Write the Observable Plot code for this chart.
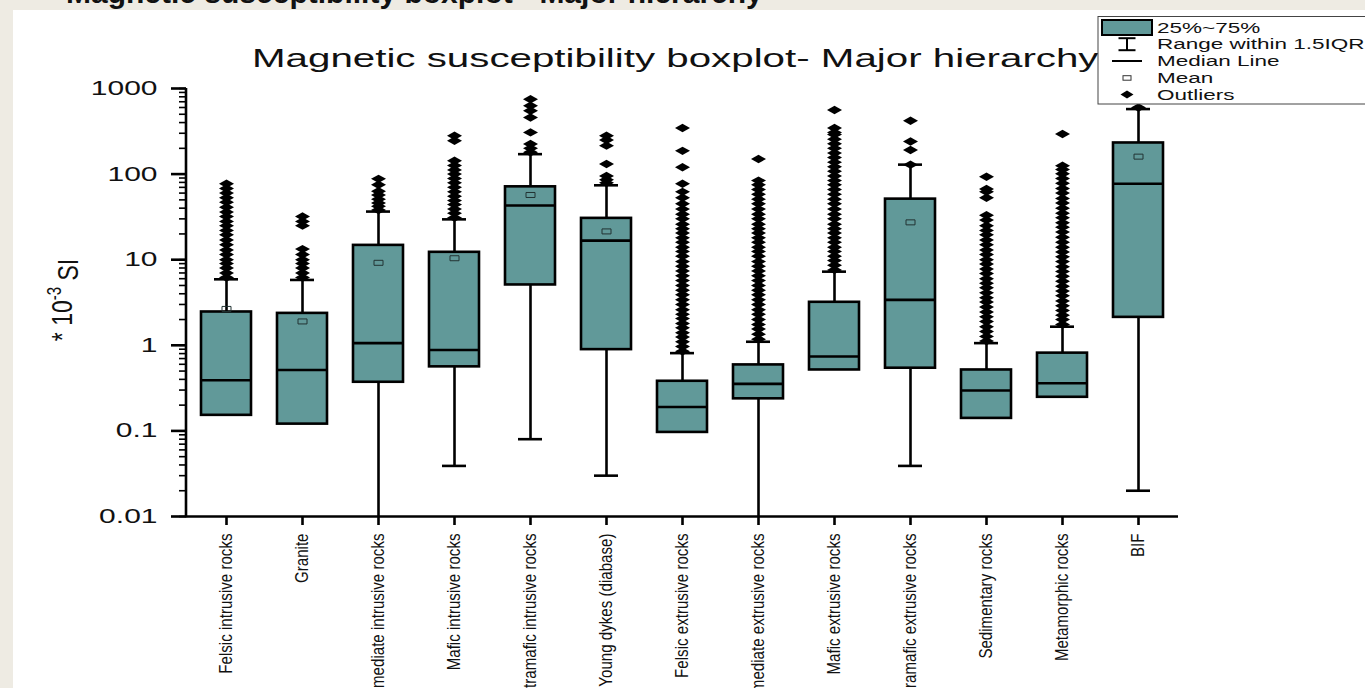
<!DOCTYPE html>
<html><head><meta charset="utf-8">
<script src="https://cdn.jsdelivr.net/npm/d3@7"></script>
<script src="https://cdn.jsdelivr.net/npm/@observablehq/plot@0.6"></script>
<style>
html,body{margin:0;padding:0;background:#eeebe3;overflow:hidden;width:1365px;height:688px;}
#chart{position:absolute;left:0;top:0;}
</style></head><body><div id="chart"></div>
<script>
// ---- data (values in *10^-3 SI) ----
const categories = ["Felsic intrusive rocks","Granite","Intermediate intrusive rocks","Mafic intrusive rocks","Ultramafic intrusive rocks","Young dykes (diabase)","Felsic extrusive rocks","Intermediate extrusive rocks","Mafic extrusive rocks","Ultramafic extrusive rocks","Sedimentary rocks","Metamorphic rocks","BIF"];
const q1          = [0.152, 0.12, 0.37, 0.56, 5.07, 0.89, 0.096, 0.237, 0.515, 0.54, 0.14, 0.247, 2.12];
const median      = [0.39, 0.515, 1.06, 0.88, 43, 16.7, 0.19, 0.354, 0.74, 3.39, 0.296, 0.36, 77];
const q3          = [2.45, 2.36, 14.7, 12.2, 71, 30.4, 0.38, 0.59, 3.18, 51, 0.515, 0.81, 231];
const mean        = [2.66, 1.9, 9.2, 10.4, 57, 21.4, null, null, null, 27.3, null, null, 160];
const whiskerHigh = [5.9, 5.8, 36.5, 29.6, 171, 74, 0.81, 1.1, 7.25, 129, 1.06, 1.65, 575];
const whiskerLow  = [null, null, 0.01, 0.039, 0.08, 0.03, null, 0.01, null, 0.039, null, null, 0.02];

const outFelsicIntrusive = [6.2,7,8,9,10,11.5,13,15,17,19.5,22,25,28,32,36,41,47,53,60,68,77];
const outGranite = [6.2,7,8,9,10,11.5,13.3,25,28,32];
const outIntermediateIntrusive = [38,42,46,51,57,63,75,88];
const outMaficIntrusive = [31,35,39,44,49,55,62,70,79,89,100,112,126,143,245,280];
const outUltramaficIntrusive = [180,200,225,307,458,550,630,750];
const outYoungDykes = [79,86,95,131,215,250,280];
const outFelsicExtrusive = [0.85,0.97,1.1,1.25,1.4,1.6,1.8,2.05,2.3,2.6,3,3.4,3.9,4.4,5,5.7,6.5,7.4,8.4,9.5,11,12.5,14,16,18,20.5,23,26,30,34,39,45,53,62,77,120,187,345];
const outIntermediateExtrusive = [1.18,1.35,1.55,1.75,2,2.3,2.6,3,3.4,3.9,4.4,5,5.7,6.5,7.4,8.4,9.5,11,12.5,14,16,18,20.5,23,26,30,34,39,45,51,58,66,75,84,150];
const outMaficExtrusive = [7.6,8.6,9.8,11,12.5,14,16,18,20.5,23,26,30,34,39,45,51,58,66,75,84,95,108,122,138,156,176,200,226,256,290,307,345,560];
const outUltramaficExtrusive = [129,191,240,420];
const outSedimentary = [1.12,1.27,1.45,1.65,1.9,2.15,2.45,2.8,3.2,3.6,4.1,4.7,5.3,6,6.9,7.8,8.9,10,11.5,13,15,17,19.5,22,25,29,33,53,62,67,93];
const outMetamorphic = [1.75,2,2.25,2.55,2.9,3.3,3.8,4.3,4.9,5.6,6.4,7.3,8.3,9.5,10.8,12.3,14,16,18.3,21,24,27,31,35,40,46,52,60,68,78,89,101,113,125,294];
const outBIF = [600];
const outliers = [outFelsicIntrusive,outGranite,outIntermediateIntrusive,outMaficIntrusive,outUltramaficIntrusive,outYoungDykes,outFelsicExtrusive,outIntermediateExtrusive,outMaficExtrusive,outUltramaficExtrusive,outSedimentary,outMetamorphic,outBIF];

const yTicks = [0.01, 0.1, 1, 10, 100, 1000];
const titleText = "Magnetic susceptibility boxplot- Major hierarchy";
const slideTitle = "Magnetic susceptibility boxplot - Major hierarchy";
const legendLabels = ["25%~75%", "Range within 1.5IQR", "Median Line", "Mean", "Outliers"];

// ---- tables ----
const stats = categories.map((name, i) => ({name, q1: q1[i], median: median[i], q3: q3[i], mean: mean[i], hi: whiskerHigh[i], lo: whiskerLow[i]}));
const outlierRows = categories.flatMap((name, i) => outliers[i].map(v => ({name, v})));

const teal = "#619999";
const FONT = "Liberation Sans, Arial, sans-serif";
const wideDiamond = {draw(ctx){ctx.moveTo(0,-4.2);ctx.lineTo(7.5,0);ctx.lineTo(0,4.2);ctx.lineTo(-7.5,0);ctx.closePath();}};
const meanRect = {draw(ctx){ctx.rect(-4.5,-2.5,9,5);}};
const SW = 2.6;

const plot = Plot.plot({
  width: 1365, height: 688,
  marginLeft: 186, marginRight: 187, marginTop: 88, marginBottom: 172,
  style: {background: "none", color: "black", fontFamily: FONT, overflow: "visible"},
  x: {domain: categories, padding: 0, label: null},
  y: {type: "log", domain: [0.01, 1000], label: null},
  marks: [
    Plot.ruleX(stats, {x: "name", y1: "q3", y2: "hi", stroke: "black", strokeWidth: SW}),
    Plot.ruleX(stats.filter(d => d.lo != null), {x: "name", y1: "lo", y2: "q1", stroke: "black", strokeWidth: SW}),
    Plot.tickY(stats, {x: "name", y: "hi", insetLeft: 26, insetRight: 26, stroke: "black", strokeWidth: SW}),
    Plot.tickY(stats.filter(d => d.lo != null && d.lo > 0.01), {x: "name", y: "lo", insetLeft: 26, insetRight: 26, stroke: "black", strokeWidth: SW}),
    Plot.dot(outlierRows, {x: "name", y: "v", symbol: wideDiamond, fill: "black", stroke: "none"}),
    Plot.barY(stats, {x: "name", y1: "q1", y2: "q3", fill: teal, stroke: "black", strokeWidth: SW, insetLeft: 13, insetRight: 13}),
    Plot.tickY(stats, {x: "name", y: "median", insetLeft: 13, insetRight: 13, stroke: "black", strokeWidth: SW}),
    Plot.dot(stats.filter(d => d.mean != null), {x: "name", y: "mean", symbol: meanRect, fill: "none", stroke: "#223333", strokeWidth: 1}),
    Plot.ruleY([0.01], {stroke: "black", strokeWidth: SW}),
    Plot.axisX({tickRotate: -90, tickSize: 9, tickPadding: 8, strokeWidth: SW, fontSize: 18, fontFamily: FONT, fill: "#111", label: null}),
    Plot.axisY({ticks: 50, tickSize: 7, strokeWidth: 1.6, tickFormat: () => "", label: null}),
    Plot.axisY({ticks: yTicks, tickSize: 15, tickPadding: 14, strokeWidth: SW, fontSize: 20, tickFormat: d => String(d), fill: "#111", label: null})
  ]
});
document.getElementById("chart").appendChild(plot);

const svg = d3.select(plot);
const xs = plot.scale("x"), ys = plot.scale("y");
const [x0, x1] = xs.range;

// stretch y tick labels horizontally, condense x tick labels along their length
svg.selectAll('g[aria-label="y-axis tick label"] text').each(function(){
  this.setAttribute("transform", (this.getAttribute("transform") || "") + " scale(1.5,1)");
});
svg.selectAll('g[aria-label="x-axis tick label"] text').each(function(){
  this.setAttribute("transform", (this.getAttribute("transform") || "") + " scale(0.84,1)");
});

// white panel behind chart
svg.insert("rect", ":first-child").attr("x", 13).attr("y", 10).attr("width", 1365).attr("height", 700).attr("fill", "white");
// clipped slide title at the very top
svg.append("text").attr("x", 66).attr("y", 3).attr("text-anchor", "start").attr("font-size", 30).attr("font-weight", "bold")
  .attr("font-family", FONT).attr("fill", "#111").text(slideTitle);

// y axis line
svg.append("line").attr("x1", x0).attr("x2", x0).attr("y1", ys.apply(1000)).attr("y2", ys.apply(0.01) + 1.2)
  .attr("stroke", "black").attr("stroke-width", SW);

// chart title
svg.append("text").attr("transform", "translate(252,66.5) scale(1.55,1)").attr("text-anchor", "start").attr("font-size", 26)
  .attr("font-family", FONT).attr("fill", "#111").text(titleText);

// y axis title
const yl = svg.append("text").attr("transform", "translate(72,300) rotate(-90) scale(1,1.3)")
  .attr("text-anchor", "middle").attr("font-size", 23).attr("font-family", FONT).attr("fill", "#111");
yl.append("tspan").text("* 10");
yl.append("tspan").attr("dy", "-0.55em").attr("font-size", 15).text("-3");
yl.append("tspan").attr("dy", "0.55em").text(" SI");

// legend
const lg = svg.append("g");
lg.append("rect").attr("x", 1098).attr("y", 16.5).attr("width", 300).attr("height", 87.5).attr("fill", "white").attr("stroke", "#444").attr("stroke-width", 1);
const rows = [27.5, 44.2, 61, 77.7, 94.4];
lg.append("rect").attr("x", 1102).attr("y", rows[0] - 7.5).attr("width", 50).attr("height", 15).attr("fill", teal).attr("stroke", "black").attr("stroke-width", 2);
const cx = 1127;
lg.append("line").attr("x1", cx).attr("x2", cx).attr("y1", rows[1] - 6).attr("y2", rows[1] + 6).attr("stroke", "black").attr("stroke-width", 2);
lg.append("line").attr("x1", cx - 8.5).attr("x2", cx + 8.5).attr("y1", rows[1] - 6).attr("y2", rows[1] - 6).attr("stroke", "black").attr("stroke-width", 2);
lg.append("line").attr("x1", cx - 8.5).attr("x2", cx + 8.5).attr("y1", rows[1] + 6).attr("y2", rows[1] + 6).attr("stroke", "black").attr("stroke-width", 2);
lg.append("line").attr("x1", 1112).attr("x2", 1142).attr("y1", rows[2]).attr("y2", rows[2]).attr("stroke", "black").attr("stroke-width", 2);
lg.append("rect").attr("x", cx - 4).attr("y", rows[3] - 2).attr("width", 8).attr("height", 4.5).attr("fill", "none").attr("stroke", "#333").attr("stroke-width", 1);
lg.append("path").attr("d", `M${cx},${rows[4]-4}L${cx+6.5},${rows[4]}L${cx},${rows[4]+4}L${cx-6.5},${rows[4]}Z`).attr("fill", "black");
legendLabels.forEach((t, i) => {
  lg.append("text").attr("transform", `translate(1157,${rows[i]}) scale(1.5,1)`).attr("dy", "0.35em").attr("text-anchor", "start")
    .attr("font-size", 15).attr("font-family", FONT).attr("fill", "#111").text(t);
});
</script></body></html>
